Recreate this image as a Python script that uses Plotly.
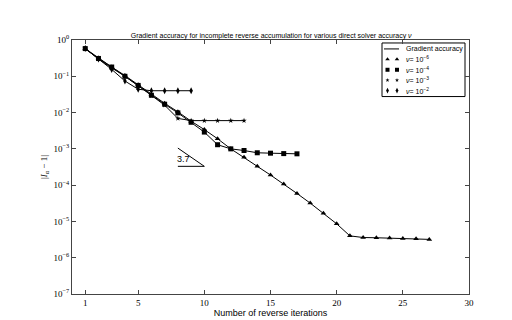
import plotly.graph_objects as go
import math

# --- data ---
iters_tri = list(range(1, 28))
err_tri = [0.58, 0.32, 0.18, 0.105, 0.058, 0.032, 0.018, 0.0105, 0.0058, 0.0034,
           0.0019, 0.001, 5.9e-4, 3.3e-4, 1.9e-4, 1.07e-4, 5.9e-5, 3.2e-5, 1.67e-5,
           8.6e-6, 4.0e-6, 3.6e-6, 3.55e-6, 3.5e-6, 3.4e-6, 3.35e-6, 3.2e-6]

iters_sq = list(range(1, 18))
err_sq = [0.58, 0.31, 0.18, 0.1, 0.056, 0.03, 0.017, 0.0098, 0.0054, 0.0029,
          0.0013, 0.001, 9.0e-4, 7.8e-4, 7.6e-4, 7.4e-4, 7.3e-4]

iters_star = list(range(1, 14))
err_star = [0.58, 0.3, 0.17, 0.1, 0.055, 0.029, 0.016, 0.0069, 0.006, 0.006,
            0.006, 0.006, 0.006]

iters_dia = list(range(1, 10))
err_dia = [0.58, 0.3, 0.155, 0.074, 0.044, 0.04, 0.04, 0.04, 0.04]

legend_labels = ["Gradient accuracy",
                 "<i>ν</i>= 10<sup>−6</sup>", "<i>ν</i>= 10<sup>−4</sup>",
                 "<i>ν</i>= 10<sup>−3</sup>", "<i>ν</i>= 10<sup>−2</sup>"]

# slope triangle guide
slope_x = [8, 10, 8, 10]
slope_y = [1.05e-3, 3.3e-4, 3.3e-4, 3.3e-4]
slope_label = "3.7"

x_ticks = [1, 5, 10, 15, 20, 25, 30]
y_exps = [0, -1, -2, -3, -4, -5, -6, -7]

SERIF = "Liberation Serif, DejaVu Serif, serif"
SANS = "Liberation Sans, Arial, sans-serif"

# plot box in pixels (matplotlib default subplot params on 512x320)
PX_L, PX_R, PX_T, PX_B = 64, 461, 32, 288

fig = go.Figure()

series = [
    (iters_tri, err_tri, "triangle-up", 5),
    (iters_sq, err_sq, "square", 5),
    (iters_star, err_star, "star", 4),
    (iters_dia, err_dia, "diamond-tall", 5),
]

for xs, ys, sym, sz in series:
    fig.add_trace(go.Scatter(x=xs, y=ys, mode="lines+markers",
                             line=dict(color="black", width=1),
                             marker=dict(symbol=sym, size=sz, color="black",
                                         line=dict(width=0)),
                             showlegend=False))

# slope triangle
fig.add_trace(go.Scatter(x=[slope_x[0], slope_x[1], None, slope_x[2], slope_x[3]],
                         y=[slope_y[0], slope_y[1], None, slope_y[2], slope_y[3]],
                         mode="lines", line=dict(color="black", width=1),
                         showlegend=False, hoverinfo="skip"))
fig.add_annotation(x=8.45, y=math.log10(5.4e-4), text=slope_label, showarrow=False,
                   font=dict(family=SANS, size=9, color="black"))

# --- matplotlib-style compact legend on a hidden pixel-unit overlay axis ---
leg_box = [374, 457, 35, 89]
leg_rows = [41, 51.5, 62, 72.5, 83]
leg_sym_x = [379.5, 389]
leg_text_x = 396

fig.add_shape(type="rect", xref="x2", yref="y2",
              x0=leg_box[0], x1=leg_box[1], y0=leg_box[2], y1=leg_box[3],
              line=dict(color="black", width=1), fillcolor="white", layer="below")
fig.add_trace(go.Scatter(x=[376, 391], y=[leg_rows[0], leg_rows[0]], mode="lines",
                         line=dict(color="black", width=1), xaxis="x2", yaxis="y2",
                         showlegend=False, hoverinfo="skip"))
for i, (xs, ys, sym, sz) in enumerate(series):
    fig.add_trace(go.Scatter(x=leg_sym_x, y=[leg_rows[i + 1]] * 2, mode="markers",
                             marker=dict(symbol=sym, size=sz - 1, color="black",
                                         line=dict(width=0)),
                             xaxis="x2", yaxis="y2", showlegend=False, hoverinfo="skip"))
for i, lab in enumerate(legend_labels):
    fig.add_annotation(x=leg_text_x, y=leg_rows[i], xref="x2", yref="y2",
                       text=lab, showarrow=False, xanchor="left", yanchor="middle",
                       font=dict(family=SANS, size=7, color="black"))

fig.update_layout(
    width=512, height=320, autosize=False,
    paper_bgcolor="white", plot_bgcolor="white",
    margin=dict(l=PX_L, r=512 - PX_R, t=PX_T, b=320 - PX_B),
    title=dict(text="Gradient accuracy for incomplete reverse accumulation for various direct solver accuracy <i>ν</i>",
               x=0.514, xanchor="center", y=0.915, yanchor="middle",
               font=dict(family=SANS, size=7, color="black")),
    showlegend=False,
    xaxis=dict(range=[0, 30], tickvals=x_ticks,
               ticktext=[str(t) for t in x_ticks],
               ticks="inside", ticklen=4, tickcolor="#444", mirror="ticks",
               showline=True, linecolor="#444", linewidth=1,
               showgrid=False, zeroline=False,
               tickfont=dict(family=SERIF, size=9, color="black"),
               title=dict(text="Number of reverse iterations", standoff=2,
                          font=dict(family=SANS, size=9, color="black"))),
    yaxis=dict(type="log", range=[-7, 0],
               tickvals=[10 ** e for e in y_exps],
               ticktext=["10<sup>%s</sup>" % (str(e).replace("-", "−")) for e in y_exps],
               ticks="inside", ticklen=4, tickcolor="#444", mirror="ticks",
               showline=True, linecolor="#444", linewidth=1,
               showgrid=False, zeroline=False,
               tickfont=dict(family=SERIF, size=9, color="black"),
               title=dict(text="|<i>I</i><sub>α</sub> − 1|", standoff=4,
                          font=dict(family=SERIF, size=9, color="black"))),
    xaxis2=dict(overlaying="x", anchor="y2", range=[PX_L, PX_R], visible=False,
                fixedrange=True),
    yaxis2=dict(overlaying="y", anchor="x2", range=[PX_B, PX_T], visible=False,
                fixedrange=True),
)

fig.write_html("out.html")
